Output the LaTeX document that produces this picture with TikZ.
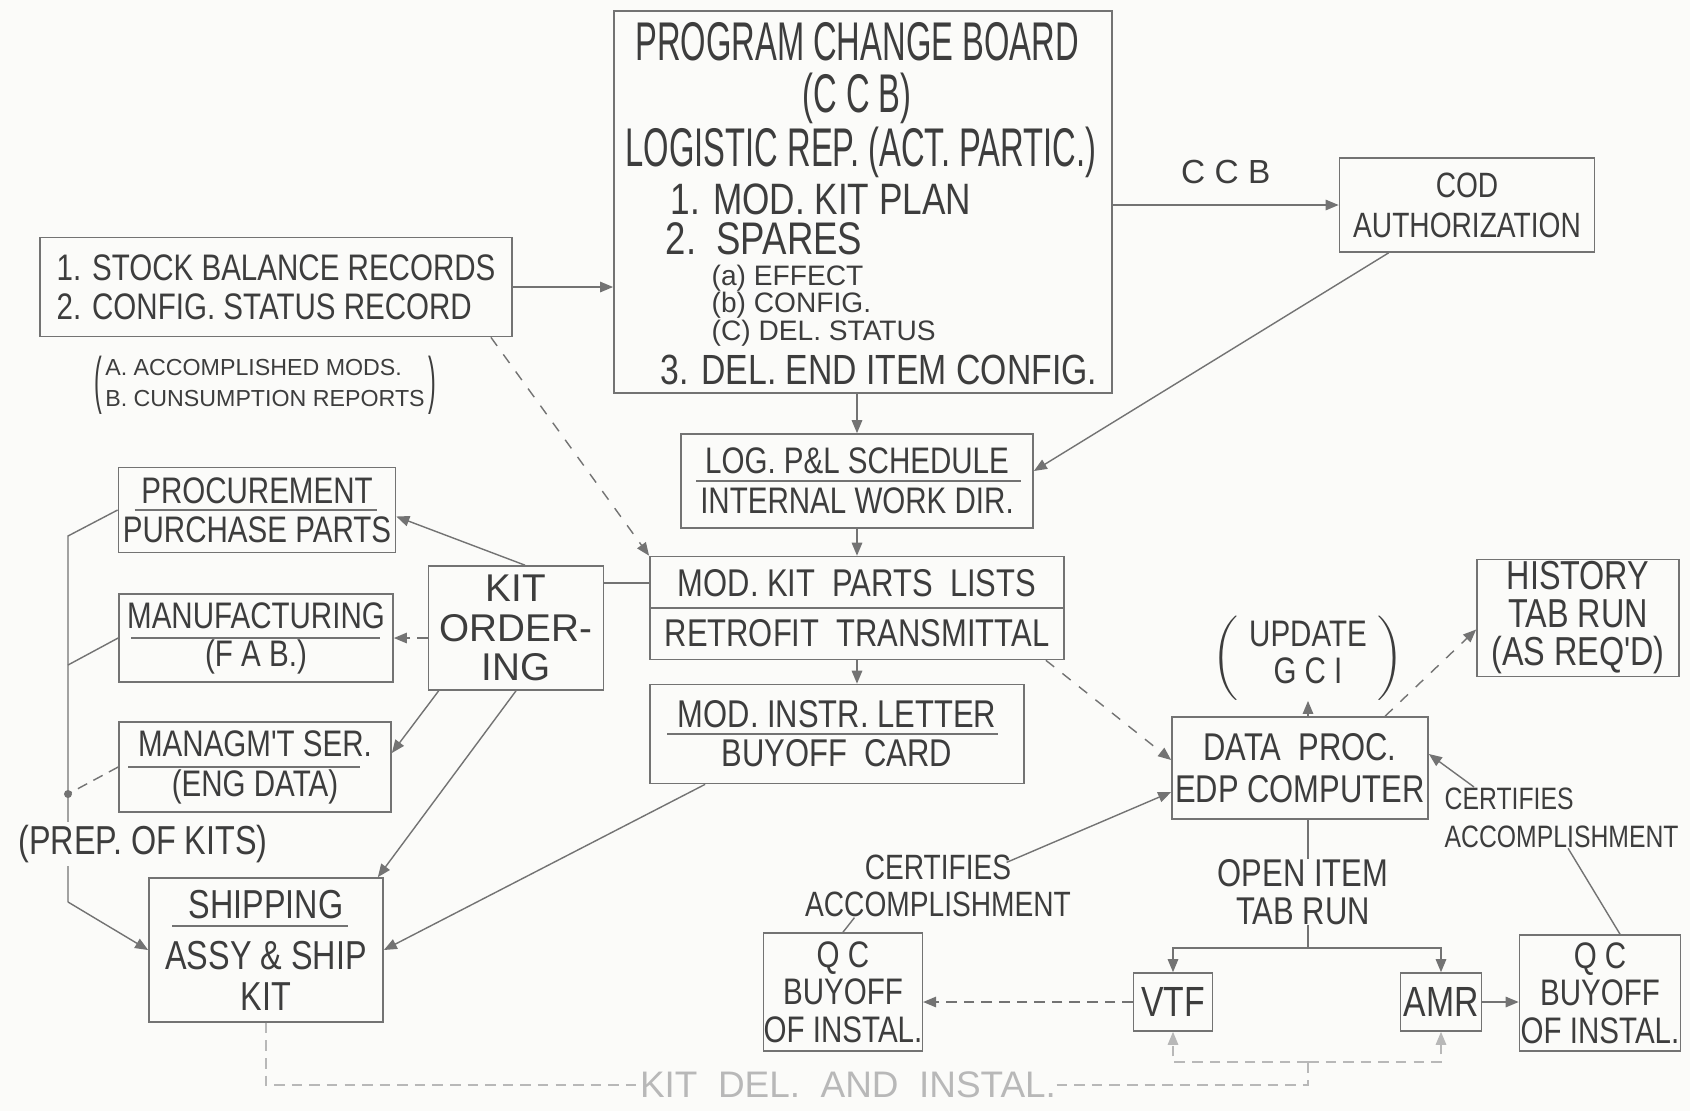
\documentclass[tikz,border=0pt]{standalone}
\usepackage{graphicx}
\usepackage{fontspec}
\setmainfont{Liberation Sans}
\newfontfamily\tallfont{Liberation Sans}[FakeStretch=0.6]
\newfontfamily\letterfont{Liberation Sans}[FakeStretch=0.8]
\newcommand\fsz[2]{\fontsize{#1}{#2}\selectfont}
\newcommand\tallparen[1]{\raisebox{-3pt}{\scalebox{1}[2.7]{#1}}}
\usetikzlibrary{arrows.meta,positioning,calc}
\definecolor{paper}{RGB}{251,251,249}
\definecolor{ink}{gray}{0.24}
\definecolor{wire}{gray}{0.45}
\definecolor{faded}{gray}{0.72}

\begin{document}
\begin{tikzpicture}[x=0.01cm,y=-0.01cm,>={Triangle[length=1.3mm,width=1.05mm]},
  b/.style={draw=wire,line width=0.45pt,align=center,inner sep=0pt,text=ink},
  t/.style={inner sep=0pt,align=center,text=ink},
  w/.style={draw=wire,line width=0.4pt},
  fw/.style={draw=faded,line width=0.4pt,densely dashed}]
\path[use as bounding box,fill=paper] (0,0) rectangle (1690,1111);

\node[b,minimum width=4.98cm,minimum height=3.82cm] (ccb) at (863,202) {};
\node[t,font=\tallfont\fsz{15.5}{16}] (board) at (857,42) {PROGRAM CHANGE BOARD};
\node[t,font=\tallfont\fsz{15.5}{16}] (abbr) at (857,98) {(C C B)};
\node[t,font=\tallfont\fsz{15.5}{16}] (logrep) at (861,152) {LOGISTIC REP. (ACT. PARTIC.)};
\node[t,anchor=west,font=\letterfont\fsz{12.5}{13}] (item1) at (670,199) {1. MOD. KIT PLAN};
\node[t,anchor=west,font=\letterfont\fsz{13}{13}] (item2) at (665,239) {2.\ \ SPARES};
\node[t,anchor=west,font=\fsz{8}{8}] (item2a) at (711,278) {(a) EFFECT};
\node[t,anchor=west,font=\fsz{8}{8}] (item2b) at (711,305) {(b) CONFIG.};
\node[t,anchor=west,font=\fsz{8}{8}] (item2c) at (711,333) {(C) DEL. STATUS};
\node[t,anchor=west,font=\letterfont\fsz{12}{12}] (item3) at (660,370) {3. DEL. END ITEM CONFIG.};

\node[b,minimum width=2.55cm,minimum height=0.94cm,font=\letterfont\fsz{10}{11.4}] (cod) at (1467,205) {COD\\AUTHORIZATION};
\node[b,minimum width=4.72cm,minimum height=0.99cm,align=left,font=\letterfont\fsz{10.5}{11.2}] (stock) at (276,287) {1. STOCK BALANCE RECORDS\\2. CONFIG. STATUS RECORD};
\node[t,font=\fsz{6.6}{8.8}] (usage) at (265,385) {\tallparen{(}\begin{tabular}{@{\hspace{1pt}}l@{\hspace{1pt}}}A. ACCOMPLISHED MODS.\\B. CUNSUMPTION REPORTS\end{tabular}\tallparen{)}};

\node[b,minimum width=3.52cm,minimum height=0.94cm,font=\letterfont\fsz{10.5}{11.4}] (log) at (857,481) {LOG. P\&L SCHEDULE\\INTERNAL WORK DIR.};
\node[b,minimum width=4.14cm,minimum height=1.03cm,font=\letterfont\fsz{11}{14.2}] (mkp) at (857,608) {MOD.\ KIT\ \ PARTS\ \ LISTS\\RETROFIT\ \ TRANSMITTAL};
\node[b,minimum width=3.74cm,minimum height=0.99cm,font=\letterfont\fsz{11}{11}] (mil) at (837,734) {MOD. INSTR. LETTER\\BUYOFF\ \ CARD};

\node[b,minimum width=1.75cm,minimum height=1.24cm,font=\fsz{11}{11.2}] (kit) at (516,628) {KIT\\ORDER-\\ING};
\node[b,minimum width=2.77cm,minimum height=0.85cm,font=\letterfont\fsz{10.5}{11.1}] (proc) at (257,510) {PROCUREMENT\\PURCHASE PARTS};
\node[b,minimum width=2.74cm,minimum height=0.88cm,font=\letterfont\fsz{10.5}{10.8}] (manu) at (256,638) {MANUFACTURING\\(F A B.)};
\node[b,minimum width=2.72cm,minimum height=0.90cm,font=\letterfont\fsz{10.5}{11.4}] (mgmt) at (255,767) {MANAGM'T SER.\\(ENG DATA)};
\node[b,minimum width=2.34cm,minimum height=1.44cm,font=\letterfont\fsz{11.5}{11.7}] (ship) at (266,950) {SHIPPING\\[2.8pt]ASSY \& SHIP\\KIT};

\node[t,font=\letterfont\fsz{10.5}{10.5}] (gci) at (1308,658) {$\left(\begin{tabular}{@{\hspace{3pt}}c@{\hspace{3pt}}}UPDATE\\G C I\end{tabular}\right)$};
\node[b,minimum width=2.56cm,minimum height=1.02cm,font=\letterfont\fsz{11}{12}] (dp) at (1300,768) {DATA\ \ PROC.\\EDP COMPUTER};
\node[b,minimum width=2.02cm,minimum height=1.17cm,font=\letterfont\fsz{11.5}{10.8}] (hist) at (1578,618) {HISTORY\\TAB RUN\\(AS REQ'D)};
\node[t,anchor=north west,align=left,font=\letterfont\fsz{8.8}{10.8}] (certR) at (1444,787) {CERTIFIES\\ACCOMPLISHMENT};
\node[t,font=\letterfont\fsz{10}{10.5}] (certL) at (938,886) {CERTIFIES\\ACCOMPLISHMENT};
\node[t,font=\letterfont\fsz{11}{10.8}] (oi) at (1303,892) {OPEN ITEM\\TAB RUN};

\node[b,minimum width=1.57cm,minimum height=1.18cm,font=\letterfont\fsz{10.5}{10.7}] (qcl) at (843,992) {Q C\\BUYOFF\\OF INSTAL.};
\node[b,minimum width=0.79cm,minimum height=0.58cm,font=\letterfont\fsz{12}{12}] (vtf) at (1173,1002) {VTF};
\node[b,minimum width=0.81cm,minimum height=0.58cm,font=\letterfont\fsz{12}{12}] (amr) at (1441,1002) {AMR};
\node[b,minimum width=1.61cm,minimum height=1.16cm,font=\letterfont\fsz{10.5}{10.7}] (qcr) at (1600,993) {Q C\\BUYOFF\\OF INSTAL.};
\node[t,text=faded,font=\fsz{10.5}{10.5}] (kitdel) at (848,1085) {KIT\ \ DEL.\ \ AND\ \ INSTAL.};

\draw[w] (mkp.west) -- (mkp.east);
\draw[w] ($(log.west)+(16,0)$) -- ($(log.east)+(-13,0)$);
\draw[w] ($(mil.west)+(18,0)$) -- ($(mil.east)+(-27,0)$);
\draw[w] ($(proc.west)+(17,0)$) -- ($(proc.east)+(-19,0)$);
\draw[w] ($(manu.west)+(13,0)$) -- ($(manu.east)+(-14,0)$);
\draw[w] ($(mgmt.west)+(10,0)$) -- ($(mgmt.east)+(-32,0)$);
\draw[w] ($(ship.west)+(24,-24)$) -- ($(ship.east)+(-36,-24)$);

\draw[w,->] (stock.east) -- (stock.east -| ccb.west);
\draw[w,->] (cod.west -| ccb.east) -- (cod.west) node[midway,above=0.2cm,t,font=\fsz{9.5}{9.5}] (ccblab) {C C B};
\draw[w,->] ([xshift=0.5cm]cod.south west) -- ([yshift=0.1cm]log.east);
\draw[w,->] (ccb.south -| log.north) -- (log.north);
\draw[w,->] (log.south) -- (mkp.north);
\draw[w,->] (mkp.south) -- (mkp.south |- mil.north);
\coordinate (kitlink) at ($(mkp.west)+(0,-25)$);
\draw[w] (kitlink) -- (kitlink -| kit.east);
\draw[w,dashed,->] ([xshift=-0.22cm]stock.south east) -- (mkp.north west);

\draw[w,->] ([xshift=0.09cm]kit.north) -- ([yshift=-0.065cm]proc.east);
\draw[w,densely dashed,->] (kit.west |- manu.east) -- (manu.east);
\draw[w,->] ([xshift=0.11cm]kit.south west) -- ([yshift=0.14cm]mgmt.east);
\draw[w,->] (kit.south) -- ([xshift=-0.06cm]ship.north east);
\draw[w,->] ([xshift=0.56cm]mil.south west) -- (ship.east);
\draw[w,dashed,->] ([xshift=-0.19cm]mkp.south east) -- ([yshift=0.08cm]dp.west);

\coordinate (t1) at (68,536);
\coordinate (t2) at (68,665);
\coordinate (t3) at (68,794);
\coordinate (t4) at (68,902);
\draw[w] (proc.west) -- (t1) -- (t4);
\draw[w] (manu.west) -- (t2);
\draw[w,densely dashed] (mgmt.west) -- (t3);
\fill[wire] (t3) circle[radius=0.04cm];
\draw[w,->] (t4) -- (ship.west);
\node[t,fill=paper,inner sep=1pt,font=\letterfont\fsz{11.5}{11.5}] (prep) at (143,844) {(PREP. OF KITS)};

\draw[w,->] (dp.north -| gci.south) -- (gci.south);
\draw[w,dashed,->] ([xshift=0.85cm]dp.north) -- ([yshift=-0.115cm]hist.west);
\draw[w,->] ([xshift=0.3cm]certR.north west) -- ([yshift=0.14cm]dp.east);
\draw[w] ([xshift=1.24cm]certR.south west) -- ([xshift=0.2cm]qcr.north);
\draw[w,->] ($(certL.north east)+(-65,8)$) -- ([yshift=-0.24cm]dp.west);
\draw[w] ($(certL.south west)+(50,0)$) -- (qcl.north);

\coordinate (hub) at (1308,948);
\coordinate (hubB) at (1308,1062);
\draw[w] (dp.south -| hub) -- (oi.north -| hub);
\draw[w] (oi.south -| hub) -- (hub);
\draw[w,->] (hub) -| (vtf.north);
\draw[w,->] (hub) -| (amr.north);
\draw[w,densely dashed,->] (vtf.west) -- (vtf.west -| qcl.east);
\draw[w,->] (amr.east) -- (amr.east -| qcr.west);
\draw[fw,->] (hubB) -| (vtf.south);
\draw[fw,->] (hubB) -| (amr.south);
\draw[fw] (ship.south) |- (kitdel.west);
\draw[fw] (kitdel.east) -| (hubB);
\end{tikzpicture}
\end{document}
